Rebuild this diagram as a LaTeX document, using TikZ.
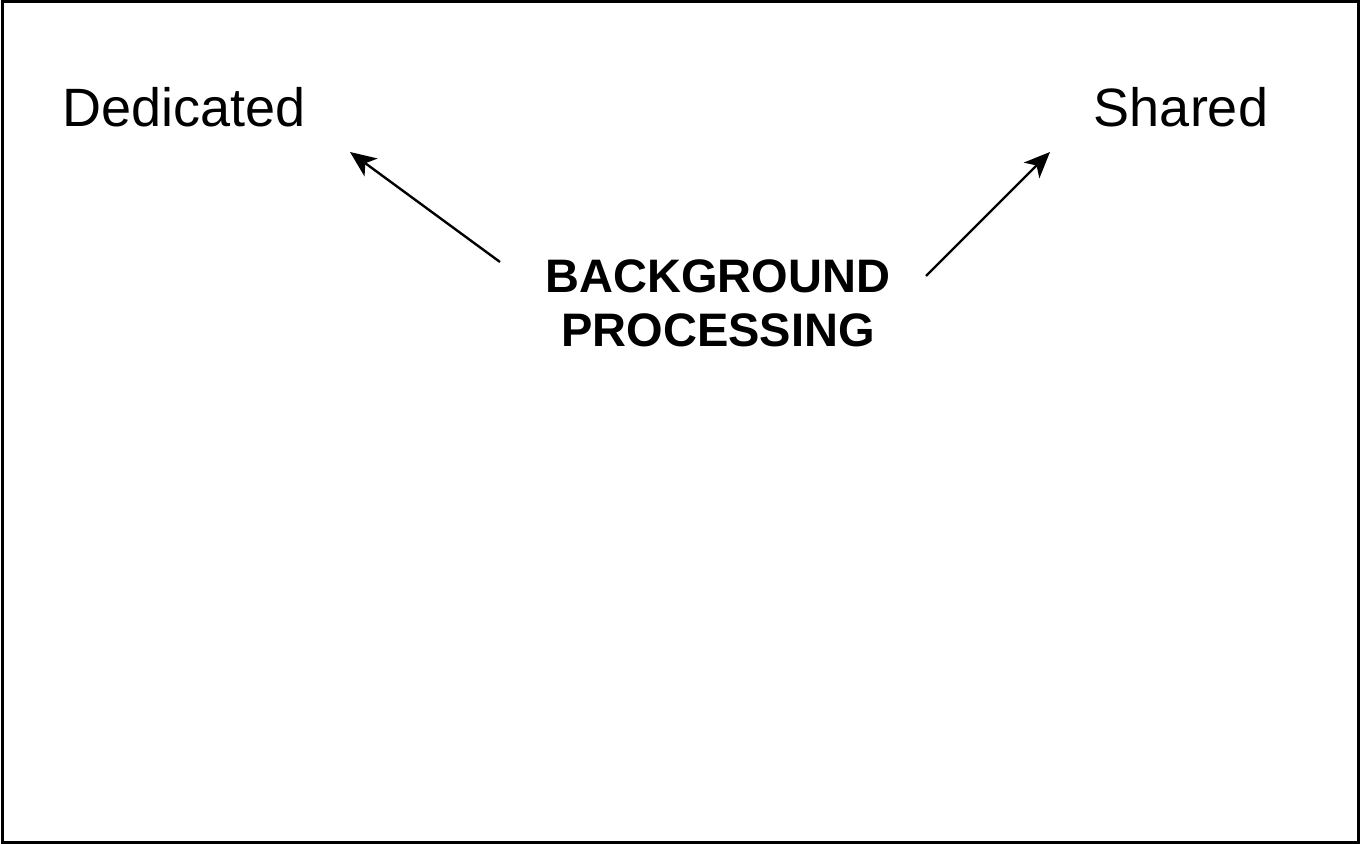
\documentclass[tikz,border=0pt]{standalone}
\usepackage{fontspec}
\setmainfont{Liberation Sans}
\usetikzlibrary{arrows.meta}
\begin{document}
\begin{tikzpicture}[x=0.5pt,y=-0.5pt,
  lbl/.style={inner sep=0pt,font=\fontsize{27}{32}\selectfont,anchor=base},
  ttl/.style={inner sep=0pt,font=\fontsize{23.5}{27}\selectfont\bfseries,align=center,anchor=base},
  arr/.style={line width=1.2pt,-{Stealth[length=13pt,width=11pt,inset=3.5pt]}}]
\useasboundingbox (0,0) rectangle (1360,844);
\draw[line width=1.5pt] (2,2) rectangle (1358,842);
\node[lbl] (ded) at (184,127) {Dedicated};
\node[lbl] (sha) at (1181,127) {Shared};
\node[ttl] (bg) at (718,347) {BACKGROUND\\PROCESSING};
\coordinate (t1) at (500,262);
\coordinate (h1) at (350,152);
\coordinate (t2) at (926,276);
\coordinate (h2) at (1050,152);
\draw[arr] (t1) -- (h1);
\draw[arr] (t2) -- (h2);
\end{tikzpicture}
\end{document}
